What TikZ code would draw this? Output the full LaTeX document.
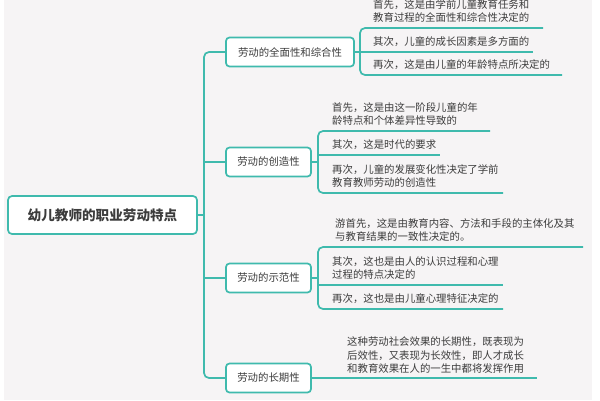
\documentclass[tikz,border=0pt]{standalone}
\usepackage{fontspec}
\setmainfont{Noto Sans CJK SC}
\definecolor{teal}{HTML}{3FBAAD}
\definecolor{txt}{HTML}{3C3C3C}
\definecolor{bg}{HTML}{F6F4F5}
\tikzset{
  conn/.style={draw=teal, line width=1.7pt, rounded corners=5pt},
  topicbox/.style={draw=teal, line width=1.7pt, fill=white, rounded corners=3.5pt,
    minimum height=29pt, inner sep=0pt, text=txt, font=\fontsize{10.4}{13}\selectfont},
  rootbox/.style={draw=teal, line width=1.7pt, fill=white, rounded corners=4pt,
    minimum width=189pt, minimum height=38pt, inner sep=0pt, text=txt,
    font=\fontsize{13.6}{16}\selectfont\bfseries},
  leaf/.style={anchor=south west, inner sep=0pt, text depth=0pt, align=left,
    text=txt, font=\fontsize{10.4}{13.6}\selectfont}
}
\begin{document}
\begin{tikzpicture}[x=1pt,y=-1pt]
\fill[white] (0,0) rectangle (600,400);
\fill[bg] (4,0) rectangle (592,400);
\useasboundingbox (0,0) rectangle (600,400);

% root and topics
\node[rootbox] (root) at (102.5,215) {幼儿教师的职业劳动特点};
\node[topicbox, minimum width=128pt] (t1) at (290,52) {劳动的全面性和综合性};
\node[topicbox, minimum width=85pt] (t2) at (268.5,162) {劳动的创造性};
\node[topicbox, minimum width=85pt] (t3) at (268.5,278) {劳动的示范性};
\node[topicbox, minimum width=85pt] (t4) at (268.5,378) {劳动的长期性};

\coordinate (trunk) at (204,215);
\draw[conn] (root.east) -- (trunk);
\draw[conn] (t1.west) -| (trunk);
\draw[conn] (t4.west) -| (trunk);
\draw[conn] (t2.west) -- (t2.west -| trunk);
\draw[conn] (t3.west) -- (t3.west -| trunk);

% topic 1 leaves
\coordinate (b1) at (360,52);
\coordinate (e1a) at (543,28);
\coordinate (e1b) at (533,52);
\coordinate (e1c) at (562,75);
\draw[conn] (e1a) -| (b1) |- (e1c);
\draw[conn] (t1.east) -- (e1b);
\node[leaf] (l1a) at (373,22) {首先，这是由学前儿童教育任务和\\教育过程的全面性和综合性决定的};
\node[leaf] (l1b) at (373,46) {其次，儿童的成长因素是多方面的};
\node[leaf] (l1c) at (373,69) {再次，这是由儿童的年龄特点所决定的};

% topic 2 leaves
\coordinate (b2) at (318,162);
\coordinate (e2a) at (490,131);
\coordinate (e2b) at (440,155);
\coordinate (e2c) at (503,193);
\draw[conn] (e2a) -| (b2) |- (e2c);
\draw[conn] (t2.east) -- (b2);
\draw[conn] (b2 |- e2b) -- (e2b);
\node[leaf] (l2a) at (332,125) {首先，这是由这一阶段儿童的年\\龄特点和个体差异性导致的};
\node[leaf] (l2b) at (332,149) {其次，这是时代的要求};
\node[leaf] (l2c) at (332,187) {再次，儿童的发展变化性决定了学前\\教育教师劳动的创造性};

% topic 3 leaves
\coordinate (b3) at (318,278);
\coordinate (e3a) at (583,247);
\coordinate (e3b) at (503,285);
\coordinate (e3c) at (503,309);
\draw[conn] (e3a) -| (b3) |- (e3c);
\draw[conn] (t3.east) -- (b3);
\draw[conn] (b3 |- e3b) -- (e3b);
\node[leaf] (l3a) at (335,241) {游首先，这是由教育内容、方法和手段的主体化及其\\与教育结果的一致性决定的。};
\node[leaf] (l3b) at (332,279) {其次，这也是由人的认识过程和心理\\过程的特点决定的};
\node[leaf] (l3c) at (332,303) {再次，这也是由儿童心理特征决定的};

% topic 4 leaf
\coordinate (e4) at (537,378);
\draw[conn] (t4.east) -- (e4);
\node[leaf] (l4) at (347,373) {这种劳动社会效果的长期性，既表现为\\后效性，又表现为长效性，即人才成长\\和教育效果在人的一生中都将发挥作用};
\end{tikzpicture}
\end{document}
